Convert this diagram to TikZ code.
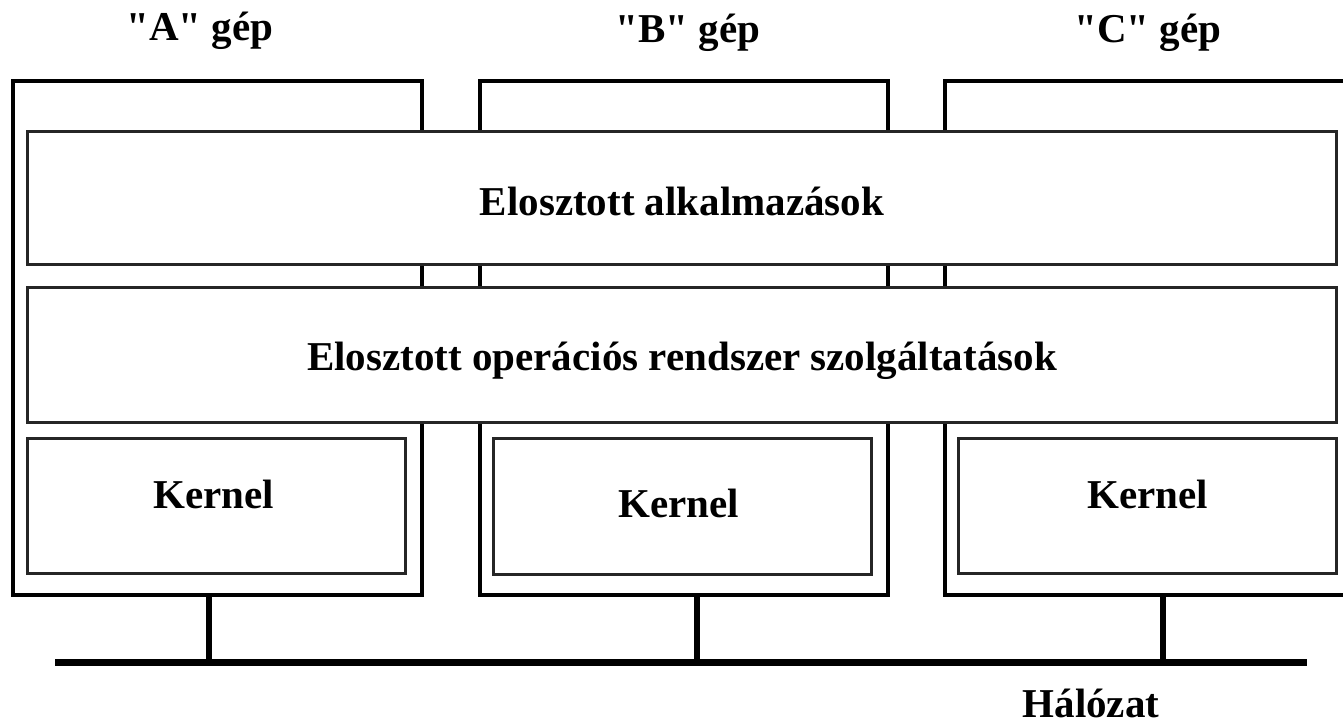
\documentclass[tikz,border=0pt]{standalone}
\usepackage{fontspec}
\newfontfamily\figfont{Liberation Serif}
\begin{document}
\begin{tikzpicture}[x=1pt,y=-1pt,
  machine/.style={draw, line width=4.5pt, inner sep=0pt, outer sep=0pt},
  layer/.style={draw=black!85, fill=white, line width=3pt, inner sep=0pt, outer sep=0pt},
  lbl/.style={font=\figfont\fontsize{41}{49}\selectfont\bfseries, anchor=base, inner sep=0pt},
  stub/.style={line width=6pt},
  bus/.style={fill=black, inner sep=0pt, outer sep=0pt},
]
\clip (0,0) rectangle (1343,725);
\fill[white] (0,0) rectangle (1343,725);

% machines
\node[machine, minimum width=409, minimum height=514] (A) at (217.5,338) {};
\node[machine, minimum width=408, minimum height=514] (B) at (684,338) {};
\node[machine, minimum width=415, minimum height=514] (C) at (1152.5,338) {};

% shared layers
\node[layer, minimum width=1309, minimum height=133] (app) at (681.5,197.5) {};
\node[layer, minimum width=1309, minimum height=135] (os) at (681.5,354.5) {};

% kernels
\node[layer, minimum width=378, minimum height=135] (kA) at (216,505.5) {};
\node[layer, minimum width=378, minimum height=136] (kB) at (682,506) {};
\node[layer, minimum width=378, minimum height=135] (kC) at (1147,505.5) {};

% texts
\node[lbl] (tA) at (200,41) {"A" gép};
\node[lbl] (tB) at (688,43) {"B" gép};
\node[lbl] (tC) at (1148,43) {"C" gép};
\node[lbl] (tapp) at (682,215) {Elosztott alkalmazások};
\node[lbl] (tos) at (682,370) {Elosztott operációs rendszer szolgáltatások};
\node[lbl] (tkA) at (214,508) {Kernel};
\node[lbl] (tkB) at (679,517) {Kernel};
\node[lbl] (tkC) at (1148,508) {Kernel};

% network
\node[bus, minimum width=1252, minimum height=7] (net) at (681,662) {};
\node[lbl] (tnet) at (1091,717) {Hálózat};

\coordinate (sA) at (209,0);
\coordinate (sB) at (697,0);
\coordinate (sC) at (1163,0);
\draw[stub] (sA |- A.south) -- (sA |- net.center);
\draw[stub] (sB |- B.south) -- (sB |- net.center);
\draw[stub] (sC |- C.south) -- (sC |- net.center);
\end{tikzpicture}
\end{document}
